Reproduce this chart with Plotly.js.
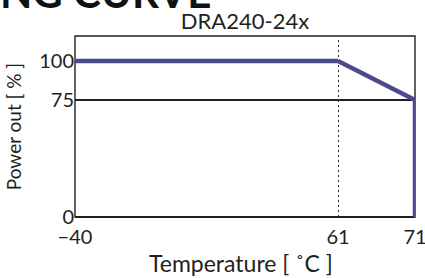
<!DOCTYPE html>
<html>
<head>
<meta charset="utf-8">
<script src="https://cdn.plot.ly/plotly-3.0.1.min.js"></script>
<style>html,body{margin:0;padding:0;background:#fff;}#chart{width:425px;height:278px;}</style>
</head>
<body>
<div id="chart"></div>
<script>
// Derating curve data
const temperature = [-40, 61, 71, 71];     // °C
const powerOut    = [100, 100, 75, 0];     // %
const xTickVals   = [-40, 61, 71];
const yTickVals   = [0, 75, 100];
const kneeTemp    = 61;
const refPower    = 75;

const FONT = 'Lato, "Open Sans", sans-serif';
const INK = '#231f20';
const BLUE = '#4a4a8c';

// Split the curve at the knee: left part on a compressed axis, right part on an expanded one
const segA = {x: temperature.slice(0, 2), y: powerOut.slice(0, 2)};
const segB = {x: temperature.slice(1), y: powerOut.slice(1)};
const tMax = temperature[temperature.length - 1];

const traces = [
  {x: segA.x, y: segA.y, xaxis: 'x', yaxis: 'y', mode: 'lines',
   line: {color: BLUE, width: 4.5}, cliponaxis: false, hoverinfo: 'skip', showlegend: false},
  {x: segB.x, y: segB.y, xaxis: 'x2', yaxis: 'y', mode: 'lines',
   line: {color: BLUE, width: 4.5}, cliponaxis: false, hoverinfo: 'skip', showlegend: false}
];

const split = 0.7735;
const layout = {
  width: 425, height: 278,
  margin: {l: 75, r: 10, t: 36, b: 61},
  paper_bgcolor: '#fff', plot_bgcolor: '#fff',
  font: {family: FONT, color: INK, size: 20},
  title: {text: 'DRA240-24x', font: {family: FONT, size: 22, color: INK},
          xref: 'paper', x: 0.5, xanchor: 'center', yref: 'container', y: 0.925, yanchor: 'middle'},
  xaxis: {domain: [0, split], range: [temperature[0], kneeTemp], anchor: 'y',
          tickvals: xTickVals.filter(v => v < kneeTemp), ticks: '', showgrid: false,
          zeroline: false, showline: false, tickfont: {size: 20}, ticklabelstandoff: 6,
          ticklabeloverflow: 'allow'},
  xaxis2: {domain: [split, 1], range: [kneeTemp, tMax], anchor: 'y',
           tickvals: xTickVals.filter(v => v >= kneeTemp), ticks: '', showgrid: false,
           zeroline: false, showline: false, tickfont: {size: 20}, ticklabelstandoff: 6,
           ticklabeloverflow: 'allow'},
  yaxis: {range: [0, 116], tickvals: yTickVals, ticks: '', showgrid: false, zeroline: false,
          showline: false, tickfont: {size: 20},
          title: {text: 'Power out [ % ]', font: {size: 19}, standoff: 12}},
  shapes: [
    {type: 'rect', xref: 'paper', yref: 'paper', x0: 0, x1: 1, y0: 0, y1: 1,
     line: {color: INK, width: 1.4}, layer: 'below'},
    {type: 'line', xref: 'paper', yref: 'paper', x0: 0, x1: 1, y0: 0, y1: 0,
     line: {color: INK, width: 2}, layer: 'below'},
    {type: 'line', xref: 'paper', yref: 'y', x0: 0, x1: 1, y0: refPower, y1: refPower,
     line: {color: INK, width: 2}, layer: 'below'},
    {type: 'line', xref: 'x2', yref: 'paper', x0: kneeTemp, x1: kneeTemp, y0: 0, y1: 1,
     line: {color: INK, width: 1.9, dash: '2px,3px'}, layer: 'below'}
  ],
  annotations: [
    {text: 'Temperature [ ˚C ]', xref: 'paper', yref: 'paper', x: 0.487, y: -0.255,
     xanchor: 'center', yanchor: 'middle', showarrow: false, font: {size: 23, color: INK}},
    {text: '<b>DERATING CURVE</b>', xref: 'paper', yref: 'paper', x: 0.405, y: 1.095,
     xanchor: 'right', yanchor: 'bottom', showarrow: false,
     font: {size: 42, color: '#111', family: FONT}}
  ]
};

Plotly.newPlot('chart', traces, layout, {staticPlot: true, displayModeBar: false});
</script>
</body>
</html>
